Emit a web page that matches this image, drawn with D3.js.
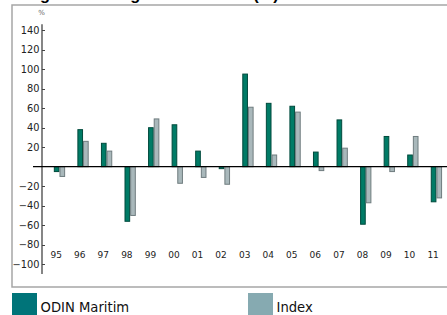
<!DOCTYPE html>
<html><head><meta charset="utf-8">
<script src="https://cdn.jsdelivr.net/npm/d3@7/dist/d3.min.js"></script>
<style>
html,body{margin:0;padding:0;background:#fff;overflow:hidden}
svg{display:block}
</style></head>
<body>
<script>
const years = ["95","96","97","98","99","00","01","02","03","04","05","06","07","08","09","10","11"];
const odin  = [-5, 38, 24, -56, 40, 43, 16, -2, 95, 65, 62, 15, 48, -59, 31, 12, -36];
const index = [-10, 26, 16, -50, 49, -17, -11, -18, 61, 12, 56, -4, 19, -37, -5, 31, -32];
const yTicks = [-100, -80, -60, -40, -20, 20, 40, 60, 80, 100, 120, 140];
const seriesNames = ["ODIN Maritim", "Index"];
const titleText = "Årlig avkastning ODIN Maritim (%)";

const W = 447, H = 315;
const svg = d3.select("body").append("svg").attr("width", W).attr("height", H);

// title (clipped at the top as in the reference)
svg.append("text").attr("x", 12.7).attr("y", 0)
  .attr("font-family", "Liberation Sans, Arial, sans-serif").attr("font-weight", "bold")
  .attr("font-size", 16.4).attr("fill", "#000").text(titleText);

// frame
svg.append("rect").attr("x", 12).attr("y", 5).attr("width", 440).attr("height", 282)
  .attr("fill", "none").attr("stroke", "#a6a6a6").attr("stroke-width", 1.5);

const y = d3.scaleLinear().domain([-110, 146]).range([273.95, 24.35]);
const x = d3.scaleBand().domain(years).range([47.7, 448.2]).paddingInner(0.52).paddingOuter(0.26);
const x2 = d3.scaleBand().domain([0, 1]).range([0, x.bandwidth()]);

// y axis line
svg.append("line").attr("x1", 42).attr("x2", 42).attr("y1", y(146)).attr("y2", y(-110))
  .attr("stroke", "#444").attr("stroke-width", 1.3);

// ticks & labels
const tg = svg.append("g");
yTicks.forEach(t => {
  tg.append("line").attr("x1", 42).attr("x2", 45).attr("y1", Math.round(y(t)) + 0.5).attr("y2", Math.round(y(t)) + 0.5)
    .attr("stroke", "#444").attr("stroke-width", 1);
  tg.append("text").attr("x", 39.5).attr("y", y(t)).attr("dy", "0.36em")
    .attr("text-anchor", "end").attr("font-family", "DejaVu Sans, Verdana, sans-serif")
    .attr("font-size", 9.8).attr("fill", "#222")
    .text(t < 0 ? "\u2212" + Math.abs(t) : String(t));
});
svg.append("text").attr("x", 41.5).attr("y", 15).attr("text-anchor", "middle")
  .attr("font-family", "DejaVu Sans, Verdana, sans-serif").attr("font-size", 7).attr("fill", "#666").text("%");

// bars
const colors = [{fill: "#007b66", stroke: "#004a3c"}, {fill: "#a9b8bb", stroke: "#6f7c7f"}];
[odin, index].forEach((vals, si) => {
  svg.append("g").selectAll("rect").data(vals).join("rect")
    .attr("x", (d, i) => x(years[i]) + x2(si) + 0.5)
    .attr("width", x2.bandwidth() - 1)
    .attr("y", d => Math.min(y(d), y(0)))
    .attr("height", d => Math.abs(y(d) - y(0)))
    .attr("fill", colors[si].fill).attr("stroke", colors[si].stroke).attr("stroke-width", 1);
});

// zero line
svg.append("line").attr("x1", 33).attr("x2", W).attr("y1", y(0)).attr("y2", y(0))
  .attr("stroke", "#000").attr("stroke-width", 1.2);

// x labels
svg.append("g").selectAll("text").data(years).join("text")
  .attr("x", d => x(d) + x.bandwidth() / 2 - 3.3).attr("y", 258)
  .attr("text-anchor", "middle").attr("font-family", "DejaVu Sans, Verdana, sans-serif")
  .attr("font-size", 9).attr("fill", "#222").text(d => d);

// legend
const legColors = ["#007479", "#86aab1"];
const legX = [12, 248];
seriesNames.forEach((n, i) => {
  svg.append("rect").attr("x", legX[i]).attr("y", 293).attr("width", 25).attr("height", 22).attr("fill", legColors[i]);
  svg.append("text").attr("x", legX[i] + 28.5).attr("y", 311.5)
    .attr("font-family", "DejaVu Sans, Verdana, sans-serif").attr("font-size", 13.2).attr("fill", "#111").text(n);
});
</script>
</body></html>
